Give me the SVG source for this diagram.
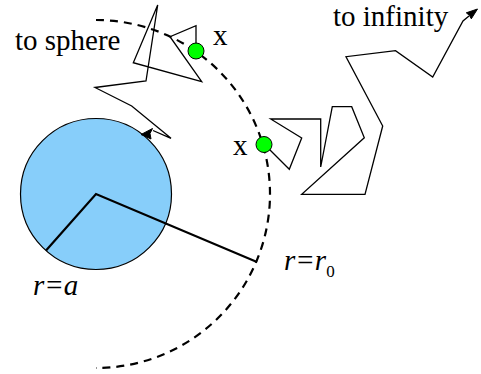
<svg xmlns="http://www.w3.org/2000/svg" width="481" height="374" viewBox="0 0 481 374">
<style>
.walk{fill:none;stroke:#000;stroke-width:1.3;stroke-linejoin:miter}
.rad{fill:none;stroke:#000;stroke-width:2.2}
.dash{fill:none;stroke:#000;stroke-width:2.2;stroke-dasharray:8,6}
.head{fill:#000;stroke:#000;stroke-width:1;stroke-linejoin:miter}
.lbl{font-family:"Liberation Serif","Times New Roman",serif;font-size:29px;fill:#000}
.it{font-style:italic}
.dot{fill:#00ff00;stroke:#000;stroke-width:1}
</style>
<g id="sphere">
<circle cx="96" cy="194" r="75.5" fill="#87cefa" stroke="#000" stroke-width="1.2"/>
</g>
<g id="connectors">
<path class="dash" d="M96,20 A174,174 0 0 1 96,368"/>
<polyline class="rad" points="46,250.5 96,194 257,262"/>
<polyline class="walk" points="196,51 196,25.7 170,36.7 201.7,81.7 133.3,62.7 157.7,5 146,81 95,87.5 131.7,106 171,138.3 153,130.5"/>
<polygon class="head" points="141,134.5 152.5,128.5 150,133.5 151,139"/>
<polyline class="walk" points="264,144 289.3,169.3 301.7,138 270.7,119 320.7,119 320.7,167 332.3,106.7 351.7,106.7 364.3,137.7 301.7,194.3 365,194.3 382.7,126 346,56.7 395.5,50.7 432.7,77 463,21 469,16"/>
<polygon class="head" points="477.5,9 471.3,18.8 469.5,15.5 466.3,12.8"/>
</g>
<g id="x1"><circle class="dot" cx="196" cy="51" r="8"/><text class="lbl" x="213" y="45">x</text></g>
<g id="x2"><circle class="dot" cx="264" cy="144.5" r="8"/><text class="lbl" x="233" y="155">x</text></g>
<g id="label-sphere"><text class="lbl" x="15" y="50">to sphere</text></g>
<g id="label-infinity"><text class="lbl" x="333" y="26">to infinity</text></g>
<g id="label-a"><text class="lbl it" x="33" y="295">r=a</text></g>
<g id="label-r0"><text class="lbl it" x="284" y="270">r=r<tspan font-style="normal" font-size="17" dy="7">0</tspan></text></g>
</svg>
